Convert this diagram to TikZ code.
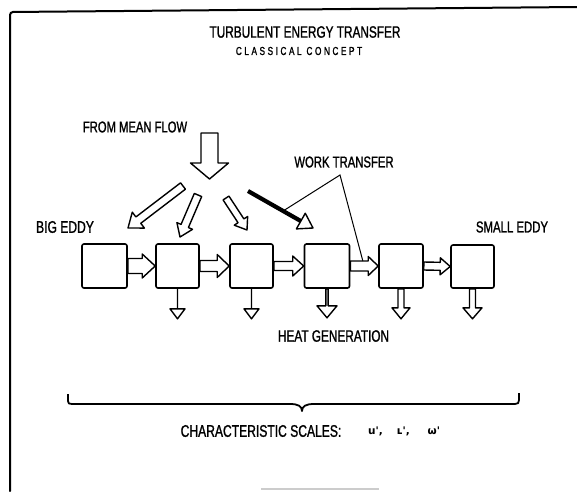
\documentclass[tikz,border=0pt]{standalone}
\usepackage{fontspec}
\setmainfont{Liberation Sans}
\newfontfamily\plotfont[FakeStretch=0.72,FakeBold=1.2]{Liberation Sans}
\newfontfamily\plotspaced[FakeStretch=0.72,FakeBold=1.2,LetterSpace=22]{Liberation Sans}
\newfontfamily\symfont{DejaVu Sans}
\usetikzlibrary{calc}

% block arrow: #1 tail, #2 tip, #3 shaft half width, #4 head half width, #5 head length
\newcommand\blockarrow[5]{%
  \coordinate (bah) at ($(#2)!#5!(#1)$);
  \draw[arrowline] ($(#1)!#3!90:(#2)$) -- ($(bah)!#3!90:(#2)$) -- ($(bah)!#4!90:(#2)$)
     -- (#2) -- ($(bah)!#4!-90:(#2)$) -- ($(bah)!#3!-90:(#2)$) -- ($(#1)!#3!-90:(#2)$) -- cycle;}

\tikzset{
  eddy/.style={draw, line width=1.6pt, rounded corners=2pt, minimum width=44pt,
               minimum height=44pt, inner sep=0pt},
  arrowline/.style={draw, line width=1.4pt, fill=white, line join=round},
  labsz/.style={inner sep=0pt, font={\plotfont\fontsize{#1}{#1}\selectfont}},
  spaced/.style={inner sep=0pt, font={\plotspaced\fontsize{11.5}{11.5}\selectfont}},
  leader/.style={line width=1pt},
  frame/.style={line width=2pt, line cap=round},
  bracestyle/.style={line width=1.8pt, line join=round},
}

\begin{document}
\begin{tikzpicture}[x=1pt,y=-1pt]
\useasboundingbox (0,0) rectangle (577,491);

% frame
\draw[frame, rounded corners=3pt] (577,7) -- (10,12) -- (10,491);
\draw[gray!40, line width=1.2pt] (261,489) -- (379,489);

% titles
\node[labsz=16.4] (title) at (305,32) {TURBULENT ENERGY TRANSFER};
\node[spaced] (sub) at (299,51) {CLASSICAL CONCEPT};
\node[labsz=15.6] (mf) at (135,127) {FROM MEAN FLOW};
\node[labsz=15.7] (wt) at (344,162) {WORK TRANSFER};
\node[labsz=16.8] (big) at (65,227) {BIG EDDY};
\node[labsz=15.8] (small) at (512,227) {SMALL EDDY};
\node[labsz=16.4] (heat) at (333.5,336) {HEAT GENERATION};
\node[labsz=16.8] (char) at (261,431) {CHARACTERISTIC SCALES:};
\node[inner sep=0pt, anchor=west, font={\symfont\bfseries\fontsize{10.5}{10.5}\selectfont}]
   (scales) at (368,431) {u',\hspace{14pt}ʟ',\hspace{18pt}ω'};

% eddies
\node[eddy, minimum width=45pt] (b1) at (104.5,266) {};
\node[eddy, minimum width=43pt] (b2) at (177.5,266) {};
\node[eddy, minimum width=43pt] (b3) at (251.5,266) {};
\node[eddy, minimum width=45pt] (b4) at (327,266) {};
\node[eddy] (b5) at (401,266) {};
\node[eddy, minimum width=43pt, minimum height=43pt] (b6) at (472.5,266.5) {};

% cascade arrows
\blockarrow{b1.east}{b2.west}{7.5pt}{12pt}{13pt}
\blockarrow{b2.east}{b3.west}{5.5pt}{11.5pt}{12pt}
\blockarrow{b3.east}{b4.west}{4.5pt}{10pt}{11pt}
\blockarrow{b4.east}{b5.west}{5pt}{9.5pt}{10pt}
\blockarrow{b5.east}{b6.west}{4pt}{8.5pt}{10pt}

% heat generation arrows
\coordinate (h2) at ($(b2.south)+(0,30)$);
\coordinate (h3) at ($(b3.south)+(0,30)$);
\coordinate (h4) at ($(b4.south)+(0,29)$);
\coordinate (h5) at ($(b5.south)+(0,30)$);
\coordinate (h6) at ($(b6.south)+(0,30)$);
\blockarrow{b2.south}{h2}{0pt}{7.5pt}{10pt}
\blockarrow{b3.south}{h3}{0pt}{7.5pt}{10pt}
\blockarrow{b4.south}{h4}{1.1pt}{10pt}{12pt}
\blockarrow{b5.south}{h5}{3pt}{9pt}{11pt}
\blockarrow{b6.south}{h6}{3pt}{9.5pt}{11pt}

% mean flow arrow
\coordinate (mftail) at (209.5,133);
\coordinate (mftip) at (209.5,179);
\blockarrow{mftail}{mftip}{8.5pt}{19pt}{16pt}

% distribution arrows
\coordinate (a1tail) at (183,186);
\coordinate (a1tip) at (128,228);
\coordinate (a2tail) at (198,195);
\coordinate (a2tip) at (180,237);
\coordinate (a3tail) at (226,198);
\coordinate (a3tip) at (247,230);
\coordinate (a4tail) at (248,191);
\coordinate (a4tip) at (313,228);
\blockarrow{a1tail}{a1tip}{4pt}{10pt}{13pt}
\blockarrow{a2tail}{a2tip}{4pt}{8.5pt}{12pt}
\blockarrow{a3tail}{a3tip}{3.5pt}{8pt}{11pt}

% work transfer arrow (solid shaft, open head)
\coordinate (a4base) at ($(a4tip)!14pt!(a4tail)$);
\draw[line width=4.2pt] (a4tail) -- (a4base);
\draw[arrowline] ($(a4base)!9pt!90:(a4tip)$) -- (a4tip) -- ($(a4base)!9pt!-90:(a4tip)$) -- cycle;

% work transfer leaders
\coordinate (wtapex) at (340,175);
\coordinate (wtend1) at ($(a4tail)!0.54!(a4tip)$);
\coordinate (wtend2) at ($(b4.east)!0.45!(b5.west)+(0,-5)$);
\draw[leader] (wtend1) -- (wtapex) -- (wtend2);

% brace
\draw[bracestyle] (68,394) -- (68,401) .. controls (68,403.5) and (69,404) .. (72,404)
  -- (290,404) .. controls (298,404) and (302,406) .. (302,411)
  .. controls (302,406) and (306,404) .. (314,404)
  -- (515,404) .. controls (518,404) and (519,403) .. (519,400) -- (519,393);
\end{tikzpicture}
\end{document}
